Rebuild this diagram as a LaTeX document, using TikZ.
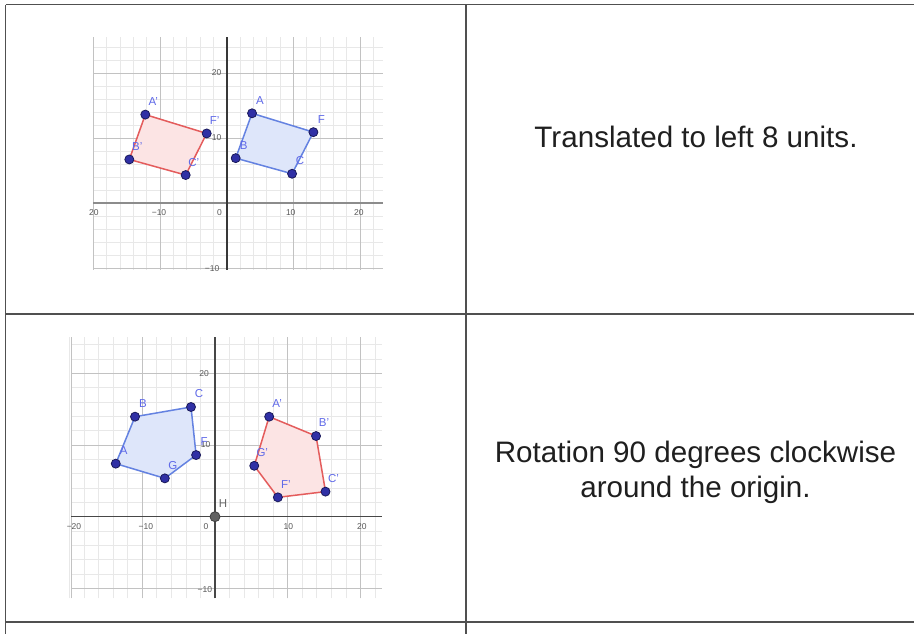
\documentclass[tikz,border=0pt]{standalone}
\usepackage{fontspec}
\setmainfont{Liberation Sans}
\usetikzlibrary{shapes,arrows,positioning,fit}
\usepackage{xcolor}
\definecolor{tablegray}{RGB}{80,80,80}
\definecolor{polyblue}{RGB}{100,130,225}
\definecolor{fillblue}{RGB}{222,230,250}
\definecolor{polyred}{RGB}{228,92,92}
\definecolor{fillred}{RGB}{252,228,228}
\definecolor{pointblue}{RGB}{48,48,165}
\definecolor{pointedge}{RGB}{25,25,90}
\definecolor{labelblue}{RGB}{95,105,232}

\begin{document}
\begin{tikzpicture}[x=1pt,y=-1pt,
    minorgrid/.style={draw=black!9, line width=0.7pt},
    majorgrid/.style={draw=black!24, line width=0.9pt},
    dotpt/.style={circle, fill=pointblue, draw=pointedge, line width=0.8pt, inner sep=0pt, minimum size=9pt},
    ptlabel/.style={text=labelblue, font=\fontsize{11.5}{11.5}\selectfont, inner sep=0pt, xshift=8pt, yshift=13pt},
    ticklabel/.style={text=black!65, font=\fontsize{8.5}{8.5}\selectfont, inner sep=0pt},
    celltext/.style={text=black!88, font=\fontsize{29.6}{35}\selectfont, align=center, inner sep=0pt}]
    \useasboundingbox (0,0) rectangle (914,634);
    \fill[white] (0,0) rectangle (914,634);

    % table
    \draw[tablegray, line width=1.6pt] (5.8,4.7) -- (914,4.7);
    \draw[tablegray, line width=1.6pt] (5.8,314) -- (914,314);
    \draw[tablegray, line width=1.6pt] (5.8,622) -- (914,622);
    \draw[tablegray, line width=1.2pt] (5.8,4.7) -- (5.8,634);
    \draw[tablegray, line width=1.2pt] (466,4.7) -- (466,634);

    % translation graph
    \begin{scope}[shift={(226.7,203)}, x=6.67pt, y=6.5pt]
        \foreach \gx in {-20,-18,...,22} \draw[minorgrid] (\gx,-10.3) -- (\gx,25.6);
        \foreach \gy in {-10,-8,...,24} \draw[minorgrid] (-20,\gy) -- (23.5,\gy);
        \foreach \gx in {-20,-10,10,20} \draw[majorgrid] (\gx,-10.3) -- (\gx,25.6);
        \foreach \gy in {-10,10,20} \draw[majorgrid] (-20,\gy) -- (23.5,\gy);
        \draw[black!45, line width=1.1pt] (-20,0) -- (23.5,0);
        \draw[black!78, line width=1.8pt] (0,-10.3) -- (0,25.6);
        \node[ticklabel] (tx1) at (-19.9,-1.45) {20};
        \node[ticklabel] (tx2) at (-10.15,-1.45) {−10};
        \node[ticklabel] (tx3) at (-1.1,-1.45) {0};
        \node[ticklabel] (tx4) at (9.6,-1.45) {10};
        \node[ticklabel] (tx5) at (19.8,-1.45) {20};
        \node[ticklabel] (ty1) at (-1.5,20) {20};
        \node[ticklabel] (ty2) at (-1.5,10) {10};
        \node[ticklabel] (ty3) at (-2.2,-10.1) {−10};

        \coordinate (tA) at (3.8,13.8);
        \coordinate (tF) at (13,10.9);
        \coordinate (tC) at (9.8,4.5);
        \coordinate (tB) at (1.35,6.9);
        \coordinate (tAp) at (-12.2,13.6);
        \coordinate (tFp) at (-3,10.7);
        \coordinate (tCp) at (-6.15,4.3);
        \coordinate (tBp) at (-14.6,6.7);
        \draw[polyblue, fill=fillblue, line width=1.5pt, line join=round] (tA) -- (tF) -- (tC) -- (tB) -- cycle;
        \draw[polyred, fill=fillred, line width=1.5pt, line join=round] (tAp) -- (tFp) -- (tCp) -- (tBp) -- cycle;
        \foreach \p in {tA,tF,tC,tB,tAp,tFp,tCp,tBp} \node[dotpt] (d\p) at (\p) {};
        \node[ptlabel] (ltA) at (tA) {A};
        \node[ptlabel] (ltF) at (tF) {F};
        \node[ptlabel] (ltC) at (tC) {C};
        \node[ptlabel] (ltB) at (tB) {B};
        \node[ptlabel] (ltAp) at (tAp) {A'};
        \node[ptlabel] (ltFp) at (tFp) {F'};
        \node[ptlabel] (ltCp) at (tCp) {C'};
        \node[ptlabel] (ltBp) at (tBp) {B'};
    \end{scope}

    % rotation graph
    \begin{scope}[shift={(215,516.7)}, x=7.27pt, y=7.17pt]
        \foreach \gx in {-20,-18,...,22} \draw[minorgrid] (\gx,-11.4) -- (\gx,25);
        \foreach \gy in {-10,-8,...,24} \draw[minorgrid] (-19.8,\gy) -- (23,\gy);
        \foreach \gx in {-10,10,20} \draw[majorgrid] (\gx,-11.4) -- (\gx,25);
        \draw[majorgrid] (-19.8,-11.4) -- (-19.8,25);
        \foreach \gy in {-10,10,20} \draw[majorgrid] (-19.8,\gy) -- (23,\gy);
        \draw[black!72, line width=1.3pt] (-19.8,0) -- (23,0);
        \draw[black!72, line width=1.3pt] (0,-11.4) -- (0,25);
        \node[ticklabel] (rx1) at (-19.4,-1.4) {−20};
        \node[ticklabel] (rx2) at (-9.5,-1.4) {−10};
        \node[ticklabel] (rx3) at (-1.25,-1.4) {0};
        \node[ticklabel] (rx4) at (10.1,-1.4) {10};
        \node[ticklabel] (rx5) at (20.2,-1.4) {20};
        \node[ticklabel] (ry1) at (-1.5,19.9) {20};
        \node[ticklabel] (ry2) at (-1.3,10) {10};
        \node[ticklabel] (ry3) at (-1.4,-10.1) {−10};

        \coordinate (rA) at (-13.65,7.4);
        \coordinate (rB) at (-11,13.95);
        \coordinate (rC) at (-3.3,15.3);
        \coordinate (rF) at (-2.6,8.6);
        \coordinate (rG) at (-6.9,5.35);
        \coordinate (rAp) at (7.45,13.95);
        \coordinate (rBp) at (13.9,11.25);
        \coordinate (rCp) at (15.2,3.5);
        \coordinate (rFp) at (8.65,2.7);
        \coordinate (rGp) at (5.4,7.1);
        \draw[polyblue, fill=fillblue, line width=1.5pt, line join=round] (rA) -- (rB) -- (rC) -- (rF) -- (rG) -- cycle;
        \draw[polyred, fill=fillred, line width=1.5pt, line join=round] (rAp) -- (rBp) -- (rCp) -- (rFp) -- (rGp) -- cycle;
        \foreach \p in {rA,rB,rC,rF,rG,rAp,rBp,rCp,rFp,rGp} \node[dotpt] (d\p) at (\p) {};
        \node[dotpt, fill=black!62, draw=black!75, minimum size=10pt] (dH) at (0,0) {};
        \node[ptlabel] (lrA) at (rA) {A};
        \node[ptlabel] (lrB) at (rB) {B};
        \node[ptlabel] (lrC) at (rC) {C};
        \node[ptlabel] (lrF) at (rF) {F};
        \node[ptlabel] (lrG) at (rG) {G};
        \node[ptlabel] (lrAp) at (rAp) {A'};
        \node[ptlabel] (lrBp) at (rBp) {B'};
        \node[ptlabel] (lrCp) at (rCp) {C'};
        \node[ptlabel] (lrFp) at (rFp) {F'};
        \node[ptlabel] (lrGp) at (rGp) {G'};
        \node[ptlabel, text=black!60] (lH) at (dH) {H};
    \end{scope}

    \node[celltext] (transtext) at (696,137) {Translated to left 8 units.};
    \node[celltext] (rottext) at (695.5,472) {Rotation 90 degrees clockwise\\around the origin.};
\end{tikzpicture}
\end{document}
